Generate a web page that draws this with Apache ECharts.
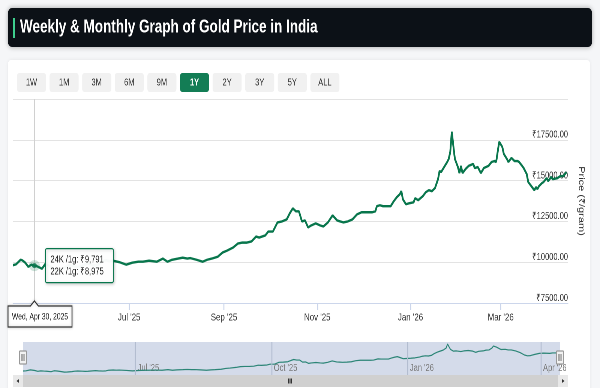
<!DOCTYPE html>
<html><head><meta charset="utf-8">
<script src="https://cdn.jsdelivr.net/npm/echarts@6/dist/echarts.min.js"></script>
<style>html,body{margin:0;padding:0;background:#f5f6f8;overflow:hidden;width:600px;height:388px;}#c{width:800px;height:388px;transform:scaleX(0.75);transform-origin:0 0;}</style>
</head><body><div id="c"></div><script>
const titleText = 'Weekly & Monthly Graph of Gold Price in India';
const rangeButtons = ['1W','1M','3M','6M','9M','1Y','2Y','3Y','5Y','ALL'];
const activeButton = '1Y';
const dates = ['2025-04-16','2025-04-18','2025-04-21','2025-04-22','2025-04-24','2025-04-26','2025-04-28','2025-04-30','2025-05-02','2025-05-05','2025-05-07','2025-05-09','2025-05-12','2025-05-14','2025-05-16','2025-05-19','2025-05-21','2025-05-23','2025-05-26','2025-05-28','2025-05-30','2025-06-02','2025-06-04','2025-06-06','2025-06-09','2025-06-11','2025-06-13','2025-06-16','2025-06-18','2025-06-20','2025-06-25','2025-06-29','2025-07-03','2025-07-07','2025-07-10','2025-07-14','2025-07-19','2025-07-23','2025-07-26','2025-07-29','2025-08-02','2025-08-05','2025-08-08','2025-08-10','2025-08-14','2025-08-18','2025-08-21','2025-08-24','2025-08-28','2025-08-31','2025-09-03','2025-09-07','2025-09-10','2025-09-13','2025-09-16','2025-09-19','2025-09-22','2025-09-24','2025-09-28','2025-09-30','2025-10-03','2025-10-06','2025-10-09','2025-10-12','2025-10-14','2025-10-16','2025-10-18','2025-10-20','2025-10-22','2025-10-24','2025-10-26','2025-10-28','2025-10-31','2025-11-03','2025-11-05','2025-11-08','2025-11-11','2025-11-14','2025-11-16','2025-11-18','2025-11-21','2025-11-24','2025-11-27','2025-11-30','2025-12-03','2025-12-07','2025-12-09','2025-12-10','2025-12-12','2025-12-14','2025-12-17','2025-12-19','2025-12-21','2025-12-23','2025-12-25','2025-12-26','2025-12-27','2025-12-29','2025-12-31','2026-01-03','2026-01-04','2026-01-06','2026-01-09','2026-01-11','2026-01-13','2026-01-15','2026-01-17','2026-01-19','2026-01-20','2026-01-21','2026-01-23','2026-01-25','2026-01-26','2026-01-27','2026-01-28','2026-01-29','2026-01-30','2026-02-01','2026-02-02','2026-02-03','2026-02-04','2026-02-06','2026-02-08','2026-02-11','2026-02-12','2026-02-14','2026-02-16','2026-02-18','2026-02-21','2026-02-23','2026-02-25','2026-02-26','2026-02-27','2026-02-28','2026-03-02','2026-03-03','2026-03-05','2026-03-06','2026-03-08','2026-03-10','2026-03-12','2026-03-13','2026-03-15','2026-03-16','2026-03-18','2026-03-19','2026-03-21','2026-03-23','2026-03-24','2026-03-25','2026-03-26','2026-03-28','2026-03-29','2026-03-31','2026-04-01','2026-04-03','2026-04-04','2026-04-07','2026-04-09','2026-04-11','2026-04-13'];
const prices = [9820,9870,10150,10120,9970,9720,9850,9791,9740,9600,9880,9820,9620,9470,9500,9620,9760,9820,9760,9700,9730,9860,9920,9860,9800,9860,10050,10120,10060,10100,9990,9850,9970,10030,10030,10090,10030,10220,10030,10150,10220,10280,10220,10250,10150,10030,10150,10220,10340,10590,10710,10900,11140,11200,11200,11270,11570,11510,11640,11880,11880,12440,12500,12620,12990,13300,13120,13120,12500,12560,12130,12250,12380,12250,12190,12440,12870,12560,12500,12440,12500,12620,12930,13060,13060,13060,13120,13430,13490,13430,13430,13430,13730,13980,14170,14350,13860,13550,13610,13670,13920,13800,14040,14290,14410,14350,14540,15090,15590,15520,15830,16140,16330,16760,17990,17130,16330,15830,15460,15900,15460,15710,15900,16020,15770,15830,15460,15770,15900,16140,16200,16140,16760,17380,17070,16640,16330,16140,16390,16200,16200,16140,15900,15770,15400,14910,14660,14410,14600,14480,14660,14850,14910,15150,14970,15220,15090,15150,15280,15280,15520];
const rangeStart = '2025-04-16', rangeEnd = '2026-04-14';
const mainTickDates = ['2025-07-01','2025-09-01','2025-11-01','2026-01-01','2026-03-01'];
const mainTickLabels = ["Jul '25","Sep '25","Nov '25","Jan '26","Mar '26"];
const navTickDates = ['2025-07-01','2025-10-01','2026-01-01','2026-04-01'];
const navTickLabels = ["Jul '25","Oct '25","Jan '26","Apr '26"];
const yMin = 7500, yMax = 20000, yStep = 2500;
const yAxisTitle = 'Price (₹/gram)';
const tipDate = '2025-04-30', tipDateLabel = 'Wed, Apr 30, 2025';
const tip24k = 9791, tip22k = 8975;

const FF = '"Liberation Sans", Arial, sans-serif';
const S = 0.75;               // page is drawn 800 wide and shown squeezed to 600
const X = v => v / S;         // convert a 600-space x into drawing space

const ts = s => new Date(s + 'T00:00:00').getTime();
const mainTicks = mainTickDates.map(ts), navTicks = navTickDates.map(ts);
const lab = (arr, labels) => v => { let bi=0,bd=Infinity; arr.forEach((t,i)=>{const d=Math.abs(t-v); if(d<bd){bd=d;bi=i;}}); return labels[bi]; };
const seriesData = dates.map((d,i)=>[ts(d), prices[i]]);

const chart = echarts.init(document.getElementById('c'), null, {devicePixelRatio:2});
const GREEN = '#08764c';
chart.setOption({
  animation:false,
  textStyle:{fontFamily:FF},
  grid:[{left:X(13),right:800-X(568),top:99,bottom:85},{left:X(23),right:800-X(560),top:342,height:33}],
  xAxis:[
    {type:'value',gridIndex:0,min:ts(rangeStart),max:ts(rangeEnd),
     axisLine:{lineStyle:{color:'#ccd6eb'}},
     axisTick:{show:true,customValues:mainTicks,length:7,lineStyle:{color:'#ccd6eb',width:1.33}},
     axisLabel:{customValues:mainTicks,formatter:lab(mainTicks,mainTickLabels),color:'#333',fontSize:10.5,margin:9,fontFamily:FF},
     splitLine:{show:false}},
    {type:'value',gridIndex:1,min:ts(rangeStart),max:ts(rangeEnd),
     axisLine:{show:false},axisTick:{show:false},
     axisLabel:{inside:true,customValues:navTicks,formatter:lab(navTicks,navTickLabels),color:'#7a7a7a',fontSize:10,margin:2,align:'left',padding:[0,0,0,3],fontFamily:FF},
     splitLine:{show:false}}
  ],
  yAxis:[
    {type:'value',gridIndex:0,position:'right',min:yMin,max:yMax,interval:yStep,
     axisLine:{show:false},axisTick:{show:false},
     axisLabel:{inside:true,margin:0,verticalAlign:'bottom',showMaxLabel:false,color:'#333',fontSize:10,fontFamily:FF,formatter:v=>'₹'+v.toFixed(2)},
     splitLine:{lineStyle:{color:'#e3e3e3'}},
     name:yAxisTitle,nameLocation:'middle',nameRotate:-90,nameGap:12,nameTextStyle:{color:'#333',fontSize:11,fontFamily:FF}},
    {type:'value',gridIndex:1,min:8600,max:18600,show:false}
  ],
  series:[
    {type:'line',xAxisIndex:0,yAxisIndex:0,data:seriesData,showSymbol:false,lineStyle:{color:GREEN,width:2.4},z:3},
    {type:'scatter',xAxisIndex:0,yAxisIndex:0,data:[[ts(tipDate),tip24k]],symbolSize:[X(11),11],itemStyle:{color:'rgba(8,118,76,0.25)'},z:4,silent:true},
    {type:'scatter',xAxisIndex:0,yAxisIndex:0,data:[[ts(tipDate),tip24k]],symbolSize:[X(5),5],itemStyle:{color:GREEN},z:5,silent:true},
    {type:'line',xAxisIndex:1,yAxisIndex:1,data:seriesData,showSymbol:false,lineStyle:{color:'#2b8576',width:1.2},z:3,
     markLine:{silent:true,symbol:'none',label:{show:false},lineStyle:{color:'#b3bdd0',width:1.33,type:'solid'},data:navTicks.map(t=>({xAxis:t}))}}
  ]
});

const p = chart.convertToPixel({xAxisIndex:0,yAxisIndex:0},[ts(tipDate),tip24k]);
const gTop = 99, gBot = 303;
const g = [];
g.push({type:'rect',shape:{x:X(8),y:60,width:X(582),height:340,r:4},style:{fill:'#fff',shadowBlur:4,shadowColor:'rgba(0,0,0,0.08)'},z:-10});
g.push({type:'rect',shape:{x:X(8),y:8,width:X(584),height:39,r:5},style:{fill:'#0c1117',shadowBlur:6,shadowColor:'rgba(0,0,0,0.35)'},z:-5});
g.push({type:'rect',shape:{x:X(13),y:18,width:X(2),height:20},style:{fill:'#3ecf8e'},z:-4});
g.push({type:'text',x:X(20),y:27.5,style:{text:titleText,fill:'#fff',font:'bold 18px '+FF,textVerticalAlign:'middle'},z:-4});
rangeButtons.forEach((b,i)=>{
  const x = X(17 + i*32.6), act = b===activeButton;
  g.push({type:'rect',shape:{x:x,y:73,width:X(29),height:19,r:3},style:{fill:act?'#137d55':'#f1f1f1'},z:-4});
  g.push({type:'text',x:x+X(14.5),y:82.5,style:{text:b,fill:act?'#fff':'#333',font:(act?'bold ':'')+'10px '+FF,textAlign:'center',textVerticalAlign:'middle'},z:-3});
});
g.push({type:'rect',shape:{x:X(23),y:342,width:X(537),height:33},style:{fill:'#d4dbea'},z:-4});
g.push({type:'rect',shape:{x:X(13),y:375,width:X(555),height:12},style:{fill:'#d0d0d0'},z:-4});
g.push({type:'rect',shape:{x:X(13),y:375,width:X(10),height:12},style:{fill:'#e8e8e8'},z:-3});
g.push({type:'rect',shape:{x:X(558),y:375,width:X(10),height:12},style:{fill:'#e8e8e8'},z:-3});
g.push({type:'polygon',shape:{points:[[X(16.5),381],[X(19),379],[X(19),383]]},style:{fill:'#333'},z:-2});
g.push({type:'polygon',shape:{points:[[X(564.5),381],[X(562),379],[X(562),383]]},style:{fill:'#333'},z:-2});
[-1.5,0,1.5].forEach(d=>g.push({type:'line',shape:{x1:X(290+d),y1:378.5,x2:X(290+d),y2:383.5},style:{stroke:'#333',lineWidth:1.33},z:-2}));
[23,560].forEach(hx=>{
  g.push({type:'rect',shape:{x:X(hx-3.5),y:351,width:X(7),height:13,r:1},style:{fill:'#f2f2f2',stroke:'#999',lineWidth:1.2},z:10});
  [-1,1].forEach(d=>g.push({type:'line',shape:{x1:X(hx+d),y1:354,x2:X(hx+d),y2:361},style:{stroke:'#666',lineWidth:1.33},z:11}));
});
g.push({type:'line',shape:{x1:p[0],y1:gTop,x2:p[0],y2:gBot},style:{stroke:'#d0d0d0',lineWidth:1.33},z:1});
const tx = p[0]+X(11), ty = p[1]-17;
g.push({type:'rect',shape:{x:tx,y:ty,width:X(68),height:34,r:2},style:{fill:'rgba(255,255,255,0.97)',stroke:GREEN,lineWidth:1.2,shadowBlur:3,shadowColor:'rgba(0,0,0,0.2)',shadowOffsetX:1,shadowOffsetY:1},z:50});
g.push({type:'text',x:tx+X(5),y:ty+11,style:{text:'24K /1g: ₹'+tip24k.toLocaleString('en-IN'),fill:'#222',font:'10px '+FF,textVerticalAlign:'middle'},z:51});
g.push({type:'text',x:tx+X(5),y:ty+23,style:{text:'22K /1g: ₹'+tip22k.toLocaleString('en-IN'),fill:'#222',font:'10px '+FF,textVerticalAlign:'middle'},z:51});
const dx = p[0], bx0 = X(8), bx1 = X(72);
g.push({type:'polygon',shape:{points:[[bx0,306],[dx-X(4),306],[dx,301],[dx+X(4),306],[bx1,306],[bx1,327],[bx0,327]]},style:{fill:'#fff',stroke:'#333',lineWidth:1.2,shadowBlur:3,shadowColor:'rgba(0,0,0,0.2)'},z:50});
g.push({type:'text',x:(bx0+bx1)/2,y:317,style:{text:tipDateLabel,fill:'#222',font:'9px '+FF,textAlign:'center',textVerticalAlign:'middle'},z:51});
chart.setOption({graphic:{elements:g}});
</script></body></html>
